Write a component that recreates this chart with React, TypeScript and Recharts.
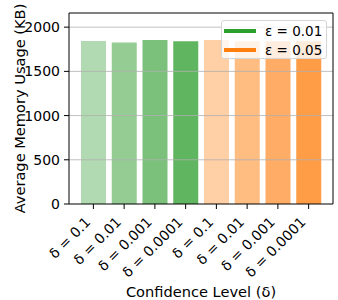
import { Bar, BarChart, Cell, ReferenceLine, XAxis, YAxis } from 'recharts';

const deltaLabels = ['δ = 0.1', 'δ = 0.01', 'δ = 0.001', 'δ = 0.0001', 'δ = 0.1', 'δ = 0.01', 'δ = 0.001', 'δ = 0.0001'];
const memoryKB = [1844, 1825, 1855, 1840, 1855, 1840, 1840, 1840];
const barColors = ['#b2dab2', '#94cc94', '#7bc17b', '#60b560', '#ffcfa6', '#ffbd82', '#ffac66', '#ff9c46'];
const yTicks = [0, 500, 1000, 1500, 2000];
const legendNames = ['ε = 0.01', 'ε = 0.05'];
const legendColors = ['#2ca02c', '#ff7f0e'];

const data = deltaLabels.map((d, i) => ({ id: i, label: d, value: memoryKB[i] }));

const font = 'DejaVu Sans, sans-serif';

function RotTick({ x, y, payload }: any) {
  const bx = x - 2;
  const by = y + 12;
  return (
    <text x={bx} y={by} textAnchor="end" transform={`rotate(-45 ${bx} ${by})`}
      fontSize={14} fontFamily={font} fill="#000">
      {deltaLabels[payload.value]}
    </text>
  );
}

function MyLegend() {
  return (
    <div style={{ position: 'absolute', left: 221, top: 20, width: 106, height: 39, border: '1px solid #d6d6d6', borderRadius: 3, background: 'rgba(255,255,255,0.8)', fontFamily: font, fontSize: 13.5, boxSizing: 'border-box', padding: '0 0 0 2px' }}>
      {legendNames.map((n, i) => (
        <div key={n} style={{ display: 'flex', alignItems: 'center', height: 19.5 }}>
          <div style={{ width: 32, height: 4, background: legendColors[i], marginRight: 9 }} />
          <span>{n}</span>
        </div>
      ))}
    </div>
  );
}

export default function App() {
  return (
    <div style={{ position: 'absolute', left: 0, top: 0, width: 338, height: 300, background: '#fff' }}>
      <BarChart width={338} height={300} data={data} margin={{ top: 12, right: 4, left: 0, bottom: 0 }} barSize={25}>
        <XAxis dataKey="id" type="category" height={96} padding={{ left: 9, right: 9 }} stroke="#000"
          tickSize={5} tick={<RotTick />} interval={0}
          label={{ value: 'Confidence Level (δ)', position: 'insideBottom', offset: 3, fontSize: 14.6, fontFamily: font, fill: '#000' }} />
        <XAxis xAxisId="top" dataKey="id" orientation="top" height={1} tick={false} tickLine={false} stroke="#000" />
        <YAxis domain={[0, 2160]} ticks={yTicks} width={69} stroke="#000" tickSize={5} tickMargin={4}
          tick={{ fontSize: 14, fontFamily: font, fill: '#000' }}
          label={{ value: 'Average Memory Usage (KB)', angle: -90, position: 'insideLeft', offset: 20, style: { textAnchor: 'middle' }, fontSize: 14.6, fontFamily: font, fill: '#000' }} />
        <YAxis yAxisId="right" orientation="right" width={1} tick={false} tickLine={false} stroke="#000" domain={[0, 2160]} />
        <Bar dataKey="value" isAnimationActive={false}>
          {data.map((d, i) => <Cell key={d.id} fill={barColors[i]} />)}
        </Bar>
        {yTicks.filter(t => t > 0).map(t => (
          <ReferenceLine key={t} y={t} stroke="#b0b0b0" strokeWidth={0.8} />
        ))}
      </BarChart>
      <MyLegend />
    </div>
  );
}
